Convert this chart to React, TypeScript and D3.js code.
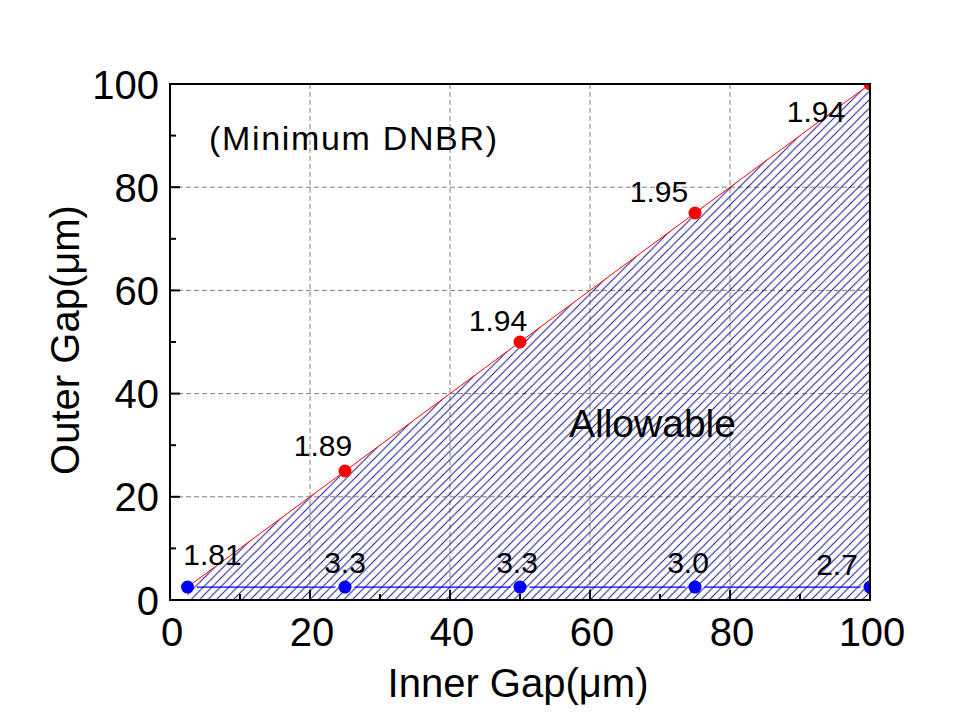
import React from "react";
import * as d3 from "d3";

// ---- data ----
const innerGap = [2.5, 25, 50, 75, 100];
const outerLimit = [2.5, 25, 50, 75, 100];
const minOuter = [2.5, 2.5, 2.5, 2.5, 2.5];
const redLabels = ["1.81", "1.89", "1.94", "1.95", "1.94"];
const blueLabels = ["1.81", "3.3", "3.3", "3.0", "2.7"];
const xTicks = [0, 20, 40, 60, 80, 100];
const yTicks = [0, 20, 40, 60, 80, 100];
const xMinor = [10, 30, 50, 70, 90];
const yMinor = [10, 30, 50, 70, 90];

// label offsets (pixels) relative to their points
const redOffsets: [number, number][] = [
  [0, 0],
  [-22, -15],
  [-22, -11],
  [-36, -11],
  [-54, 38],
];
const blueOffsets: [number, number][] = [
  [25, -22],
  [0, -14],
  [-3, -14],
  [-7, -14],
  [-33, -12],
];

const W = 960;
const H = 720;
const L = 170, R = 870, T = 84, B = 600;
const FONT = "'Liberation Sans', Arial, sans-serif";

export default function App() {
  const x = d3.scaleLinear().domain([0, 100]).range([L, R]);
  const y = d3.scaleLinear().domain([0, 100]).range([B, T]);

  const redPts = innerGap.map((v, i) => [x(v), y(outerLimit[i])] as [number, number]);
  const bluePts = innerGap.map((v, i) => [x(v), y(minOuter[i])] as [number, number]);

  const redLine = d3.line()(redPts) || "";
  const areaPts: [number, number][] = [
    ...redPts,
    [x(100), y(0)],
    [x(innerGap[0]), y(0)],
  ];
  const areaPath = (d3.line()(areaPts) || "") + "Z";

  const r = 6.5;
  const gap = r + 3;
  const blueSegs: string[] = [];
  for (let i = 0; i < bluePts.length - 1; i++) {
    const [x0, y0] = bluePts[i];
    const [x1, y1] = bluePts[i + 1];
    const len = Math.hypot(x1 - x0, y1 - y0);
    const ux = (x1 - x0) / len, uy = (y1 - y0) / len;
    blueSegs.push(
      d3.line()([
        [x0 + ux * gap, y0 + uy * gap],
        [x1 - ux * gap, y1 - uy * gap],
      ]) || ""
    );
  }

  const hs = 8.5;

  return (
    <svg
      width={W}
      height={H}
      style={{ position: "absolute", left: 0, top: 0, background: "#fff" }}
      fontFamily={FONT}
    >
      <defs>
        <pattern id="hatch" patternUnits="userSpaceOnUse" width={hs} height={hs}>
          <path
            d={`M${-hs / 2},${hs / 2} L${hs / 2},${-hs / 2} M0,${hs} L${hs},0 M${hs / 2},${hs * 1.5} L${hs * 1.5},${hs / 2}`}
            stroke="#10108c"
            strokeWidth={1}
          />
        </pattern>
        <clipPath id="plotClip">
          <rect x={L} y={T} width={R - L} height={B - T} />
        </clipPath>
      </defs>
      <rect x={0} y={0} width={W} height={H} fill="#fff" />

      {/* grid */}
      {xTicks.filter((t) => t > 0 && t < 100).map((t) => (
        <line key={"gx" + t} x1={x(t)} x2={x(t)} y1={T} y2={B} stroke="#808080" strokeWidth={1} strokeDasharray="5,3" />
      ))}
      {yTicks.filter((t) => t > 0 && t < 100).map((t) => (
        <line key={"gy" + t} x1={L} x2={R} y1={y(t)} y2={y(t)} stroke="#808080" strokeWidth={1} strokeDasharray="5,3" />
      ))}

      <g clipPath="url(#plotClip)">
        <path d={areaPath} fill="url(#hatch)" stroke="none" />
        <path d={redLine} fill="none" stroke="#ff0000" strokeWidth={1} />
        {blueSegs.map((d, i) => (
          <path key={"bs" + i} d={d} fill="none" stroke="#0000ff" strokeWidth={1.2} />
        ))}
        {redPts.slice(1).map((p, i) => (
          <circle key={"rp" + i} cx={p[0]} cy={p[1]} r={r} fill="#ff0000" />
        ))}
        {bluePts.map((p, i) => (
          <circle key={"bp" + i} cx={p[0]} cy={p[1]} r={r} fill="#0000ff" />
        ))}
      </g>

      {/* frame */}
      <rect x={L} y={T} width={R - L} height={B - T} fill="none" stroke="#000" strokeWidth={2} />

      {/* ticks */}
      {xTicks.map((t) => (
        <line key={"xt" + t} x1={x(t)} x2={x(t)} y1={B} y2={B - 10} stroke="#000" strokeWidth={2} />
      ))}
      {xMinor.map((t) => (
        <line key={"xm" + t} x1={x(t)} x2={x(t)} y1={B} y2={B - 6} stroke="#000" strokeWidth={2} />
      ))}
      {yTicks.map((t) => (
        <line key={"yt" + t} x1={L} x2={L + 10} y1={y(t)} y2={y(t)} stroke="#000" strokeWidth={2} />
      ))}
      {yMinor.map((t) => (
        <line key={"ym" + t} x1={L} x2={L + 6} y1={y(t)} y2={y(t)} stroke="#000" strokeWidth={2} />
      ))}

      {/* tick labels */}
      {xTicks.map((t) => (
        <text key={"xl" + t} x={x(t) + 2} y={646} fontSize={40} textAnchor="middle" fill="#000">
          {t}
        </text>
      ))}
      {yTicks.map((t) => (
        <text key={"yl" + t} x={159} y={y(t) + 14.5} fontSize={40} textAnchor="end" fill="#000">
          {t}
        </text>
      ))}

      {/* axis titles */}
      <text x={518} y={697} fontSize={40} textAnchor="middle" fill="#000">
        Inner Gap(μm)
      </text>
      <text
        transform={`translate(79,340) rotate(-90)`}
        fontSize={40}
        textAnchor="middle"
        fill="#000"
      >
        Outer Gap(μm)
      </text>

      {/* data labels */}
      {redLabels.map((lab, i) =>
        i === 0 ? null : (
          <text
            key={"rl" + i}
            x={redPts[i][0] + redOffsets[i][0]}
            y={redPts[i][1] + redOffsets[i][1]}
            fontSize={30}
            textAnchor="middle"
            fill="#000"
          >
            {lab}
          </text>
        )
      )}
      {blueLabels.map((lab, i) => (
        <text
          key={"bl" + i}
          x={bluePts[i][0] + blueOffsets[i][0]}
          y={bluePts[i][1] + blueOffsets[i][1]}
          fontSize={30}
          textAnchor="middle"
          fill="#000"
        >
          {lab}
        </text>
      ))}

      <text x={209} y={150} fontSize={34} fill="#000" textLength={288} lengthAdjust="spacing">
        (Minimum DNBR)
      </text>
      <text x={569} y={437} fontSize={39} fill="#000">
        Allowable
      </text>
    </svg>
  );
}
